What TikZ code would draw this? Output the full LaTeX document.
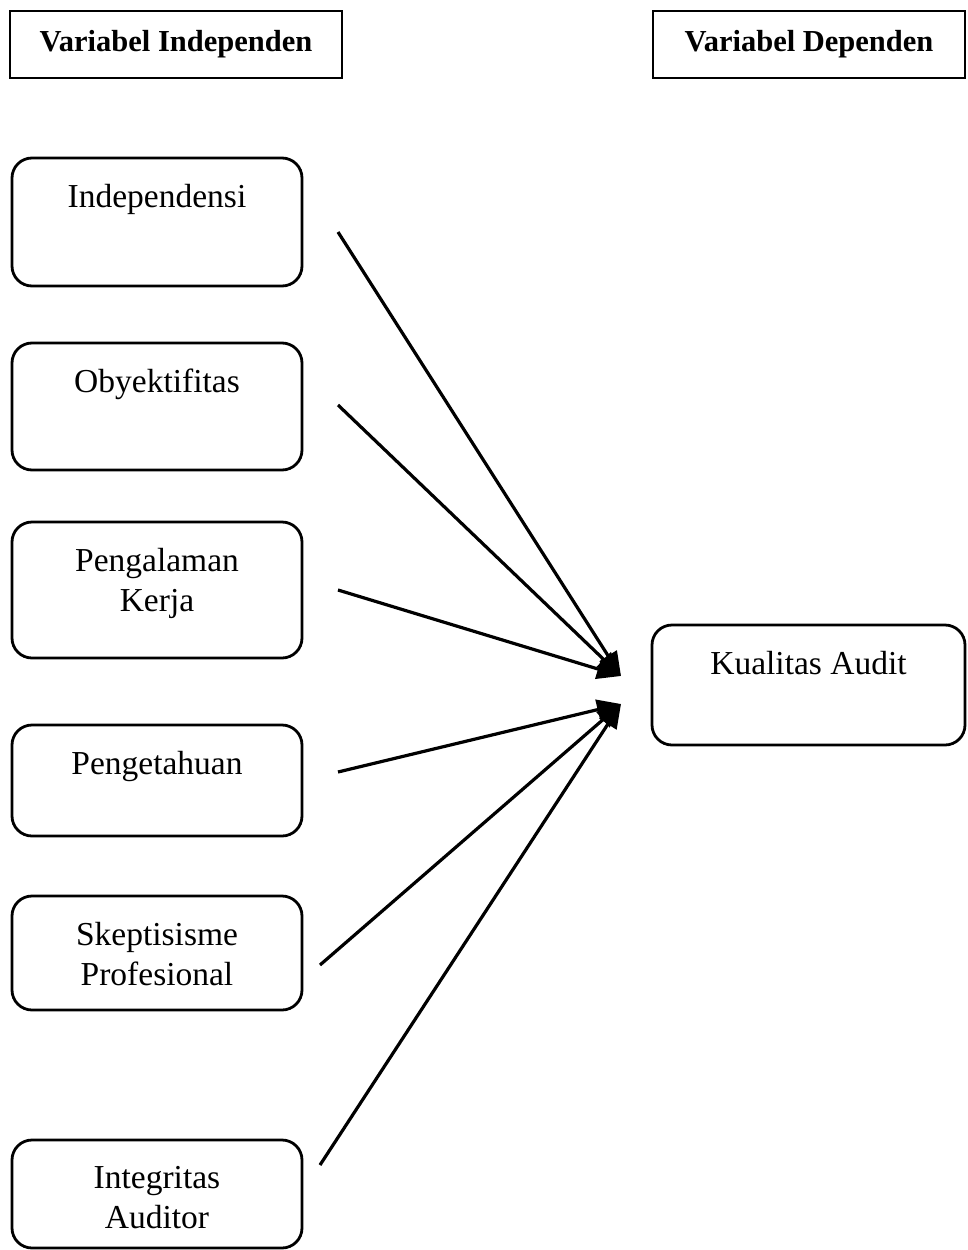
\documentclass[tikz,border=0pt]{standalone}
\usepackage{fontspec}
\setmainfont{Liberation Serif}
\usetikzlibrary{arrows.meta}
\newcommand{\topbox}[3]{\begin{minipage}[c][#1pt][t]{#2pt}\centering\vspace*{26pt}#3\end{minipage}}
\tikzset{
  x=1pt, y=-1pt,
  header/.style={draw, line width=2.6pt, inner sep=0pt, font=\fontsize{30.5}{34}\selectfont\bfseries},
  varbox/.style={draw, line width=2.8pt, rounded corners=20pt, inner sep=0pt, font=\fontsize{33.5}{40}\selectfont},
  arr/.style={line width=3.2pt, -{Triangle[length=24pt,width=20pt]}}
}
\begin{document}
\begin{tikzpicture}
\useasboundingbox (0,0) rectangle (967,1250);
% headers
\node[header, minimum width=332pt, minimum height=67pt] (hind) at (176,44.5) {Variabel Independen};
\node[header, minimum width=312pt, minimum height=67pt] (hdep) at (809,44.5) {Variabel Dependen};
% independent variable boxes
\node[varbox] (ind) at (157,222) {\topbox{128}{290}{Independensi}};
\node[varbox] (oby) at (157,406.5) {\topbox{127}{290}{Obyektifitas}};
\node[varbox] (pen) at (157,590) {\topbox{136}{290}{Pengalaman\\Kerja}};
\node[varbox] (pet) at (157,780.5) {\topbox{111}{290}{Pengetahuan}};
\node[varbox] (ske) at (157,953) {\topbox{114}{290}{Skeptisisme\\Profesional}};
\node[varbox] (int) at (157,1194) {\topbox{108}{290}{Integritas\\Auditor}};
% dependent variable box
\node[varbox] (kua) at (808.5,685) {\topbox{120}{313}{Kualitas Audit}};
% arrow ends
\coordinate (s1) at (338,232);
\coordinate (s2) at (338,405);
\coordinate (s3) at (338,590);
\coordinate (s4) at (338,772);
\coordinate (s5) at (320,965);
\coordinate (s6) at (320,1165);
\coordinate (t1) at (621,676);
\coordinate (t2) at (621,704);
\draw[arr] (s1) -- (t1);
\draw[arr] (s2) -- (t1);
\draw[arr] (s3) -- (t1);
\draw[arr] (s4) -- (t2);
\draw[arr] (s5) -- (t2);
\draw[arr] (s6) -- (t2);
\end{tikzpicture}
\end{document}
